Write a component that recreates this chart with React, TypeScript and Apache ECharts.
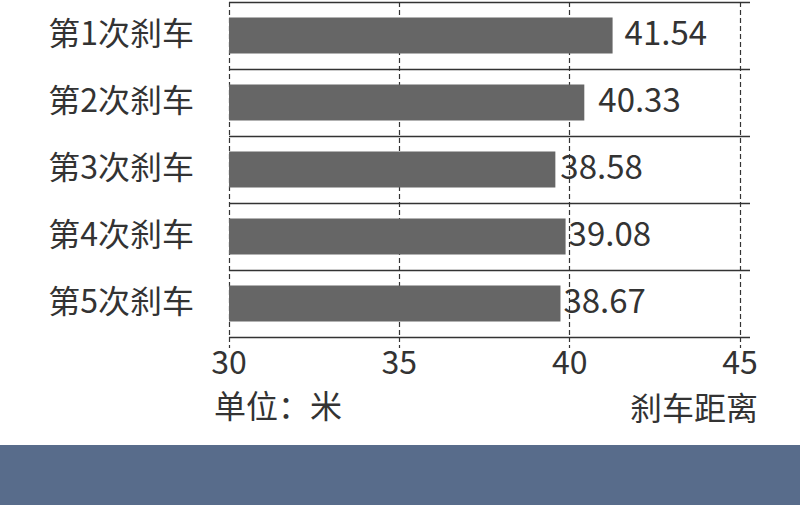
import { useEffect, useRef } from 'react'
import * as echarts from 'echarts'

// rows, top to bottom
const categories = ['第1次刹车', '第2次刹车', '第3次刹车', '第4次刹车', '第5次刹车']
// bar lengths as drawn in the picture
const barValues = [41.26, 40.43, 39.58, 39.88, 39.73]
// value labels printed next to the bars
const valueLabels = ['41.54', '40.33', '38.58', '39.08', '38.67']
const xTicks = [30, 35, 40, 45]

const unitText = '单位：米'
const axisTitle = '刹车距离'

const TEXT = '#333333'
const FONT = '"Noto Sans CJK SC", "Noto Sans", sans-serif'
const labelGap = [12, 14, 5, 3, 3]

export default function App() {
  const ref = useRef<HTMLDivElement | null>(null)

  useEffect(() => {
    if (!ref.current) return
    const chart = echarts.init(ref.current, null, { renderer: 'svg' })

    const txt = { fontSize: 32, fontWeight: 400, color: TEXT, fontFamily: FONT }

    chart.setOption({
      animation: false,
      backgroundColor: '#ffffff',
      textStyle: { fontFamily: FONT },
      title: [
        { text: unitText, left: 209, top: 383, textStyle: txt },
        { text: axisTitle, right: 37, top: 385, textStyle: txt },
      ],
      grid: [
        { left: 229, top: 2, width: 521, height: 335 },
        { left: 229, top: 2, width: 511, height: 335 },
      ],
      xAxis: [
        { gridIndex: 0, type: 'value', show: false, min: 0, max: 1 },
        {
          gridIndex: 1,
          type: 'value',
          min: xTicks[0],
          max: xTicks[xTicks.length - 1],
          interval: xTicks[1] - xTicks[0],
          axisLine: { show: false },
          axisTick: {
            show: true,
            length: 11,
            lineStyle: { color: TEXT, type: [5, 3], width: 1.2 },
          },
          splitLine: { show: true, lineStyle: { color: TEXT, type: [5, 3], width: 1.2 } },
          axisLabel: { ...txt, margin: 7 },
        },
      ],
      yAxis: [
        {
          gridIndex: 0,
          type: 'category',
          inverse: true,
          data: categories,
          axisLine: { show: false },
          axisTick: { show: false },
          axisLabel: { show: false },
          splitLine: { show: true, lineStyle: { color: TEXT, width: 1.3 } },
        },
        {
          gridIndex: 1,
          type: 'category',
          inverse: true,
          data: categories,
          axisLine: { show: false },
          axisTick: { show: false },
          axisLabel: { ...txt, margin: 35, verticalAlign: 'bottom', lineHeight: 10 },
          splitLine: { show: false },
        },
      ],
      graphic: [
        {
          type: 'rect',
          left: 0,
          top: 445,
          shape: { width: 800, height: 60 },
          style: { fill: '#586c8b' },
          silent: true,
        },
      ],
      series: [
        {
          type: 'bar',
          xAxisIndex: 1,
          yAxisIndex: 1,
          barWidth: 36,
          itemStyle: { color: '#666666' },
          data: barValues.map((v, i) => ({
            value: v,
            label: { distance: labelGap[i] },
          })),
          label: {
            show: true,
            position: 'right',
            ...txt,
            fontSize: 33,
            offset: [0, -5],
            formatter: (p: { dataIndex: number }) => valueLabels[p.dataIndex],
          },
        },
      ],
    })

    return () => chart.dispose()
  }, [])

  return (
    <div
      ref={ref}
      style={{ position: 'fixed', left: 0, top: 0, width: 800, height: 505 }}
    />
  )
}
